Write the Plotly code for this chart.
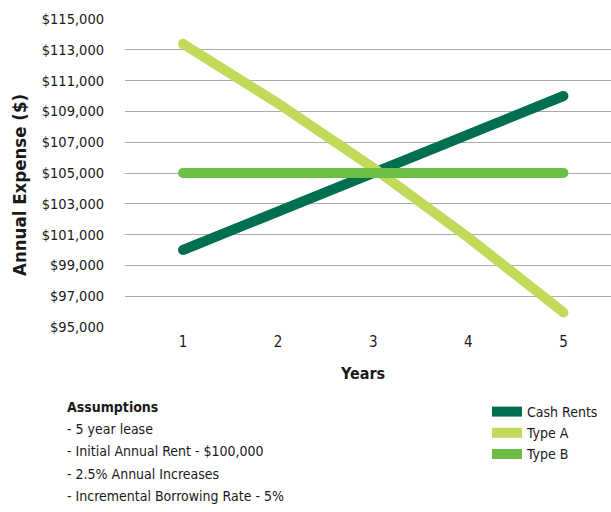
import plotly.graph_objects as go

years = [1, 2, 3, 4, 5]
cash_rents = [100000, 102500, 105000, 107500, 110000]
type_a = [113385, 109518, 105334, 100815, 95946]
type_b = [105000, 105000, 105000, 105000, 105000]
y_ticks = list(range(95000, 115001, 2000))
y_tick_labels = ["${:,}".format(v) for v in y_ticks]
assumptions_title = "Assumptions"
assumptions = ["- 5 year lease", "- Initial Annual Rent - $100,000",
               "- 2.5% Annual Increases", "- Incremental Borrowing Rate - 5%"]

series = [
    ("Cash Rents", cash_rents, "#006F51"),
    ("Type A", type_a, "#C2DA5A"),
    ("Type B", type_b, "#6DBE45"),
]

FONT = "DejaVu Sans Condensed, DejaVu Sans, sans-serif"
TXT = "#1a1a1a"
W = 10
W_PX, H_PX = 611, 512
L, T, B = 125, 19, 185
PW, PH = W_PX - L, H_PX - T - B


def px(xp):
    return (xp - L) / PW


def py(yp):
    return (H_PX - B - yp) / PH


fig = go.Figure()
for name, vals, col in series:
    fig.add_trace(go.Scatter(x=years, y=vals, name=name, mode="lines",
                             line=dict(color=col, width=W)))
for name, vals, col in series:
    fig.add_trace(go.Scatter(x=[years[0], years[-1]], y=[vals[0], vals[-1]],
                             mode="markers", showlegend=False, hoverinfo="skip",
                             marker=dict(color=col, size=W, line=dict(width=0))))

fig.update_layout(
    width=W_PX, height=H_PX,
    margin=dict(l=L, r=0, t=T, b=B, autoexpand=False),
    paper_bgcolor="white", plot_bgcolor="white",
    font=dict(family=FONT, size=14, color=TXT),
    showlegend=True,
    legend=dict(xref="container", yref="container", x=487 / W_PX, y=1 - 396 / H_PX,
                xanchor="left", yanchor="top",
                font=dict(size=14, family=FONT, color=TXT), itemwidth=30,
                tracegroupgap=0, bgcolor="rgba(0,0,0,0)"),
    xaxis=dict(range=[0.39, 5.5], tickvals=years, ticktext=[str(v) for v in years],
               showgrid=False, zeroline=False, showline=False,
               ticklabelstandoff=4, tickfont=dict(size=15)),
    yaxis=dict(range=[95000, 115000], tickvals=y_ticks, ticktext=y_tick_labels,
               showgrid=True, gridcolor="#ABABAB", gridwidth=1.3, zeroline=False,
               showline=False, ticklabelstandoff=20, tickfont=dict(size=14.5)),
)

fig.add_annotation(xref="paper", yref="paper", x=px(19), y=py(185),
                   xanchor="center", yanchor="middle", showarrow=False, textangle=-90,
                   text="<b>Annual Expense ($)</b>",
                   font=dict(size=18.5, family=FONT, color=TXT))
fig.add_annotation(xref="paper", yref="paper", x=px(362), y=py(373),
                   xanchor="center", yanchor="middle", showarrow=False,
                   text="<b>Years</b>",
                   font=dict(size=16, family=FONT, color=TXT))

line_y = [407, 429, 451, 474, 496]
for i, (txt, yc) in enumerate(zip([assumptions_title] + assumptions, line_y)):
    fig.add_annotation(xref="paper", yref="paper", x=px(65), y=py(yc),
                       xanchor="left", yanchor="middle", showarrow=False, align="left",
                       text=("<b>%s</b>" % txt) if i == 0 else txt,
                       font=dict(size=14, family=FONT, color=TXT))

fig.write_html("out.html", config={"displayModeBar": False},
               post_script="document.body.style.margin='0';")
